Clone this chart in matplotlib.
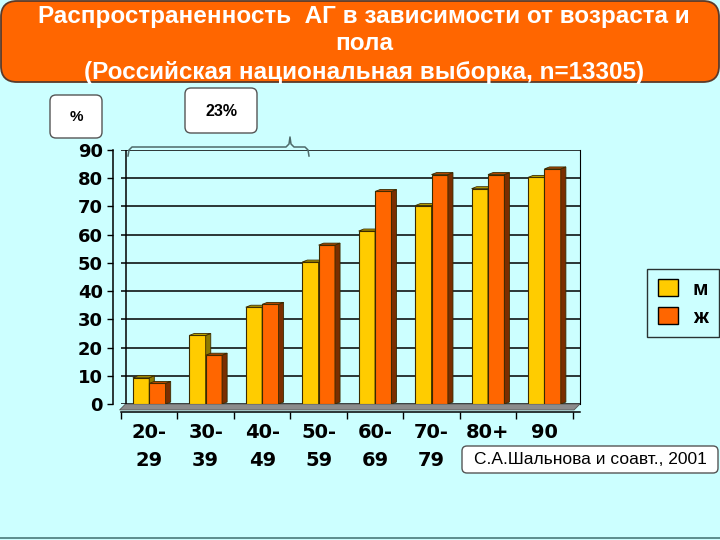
import matplotlib.pyplot as plt
from matplotlib.patches import FancyBboxPatch, Polygon, Rectangle, Patch
from matplotlib.lines import Line2D

plt.rcParams['font.family'] = ['Liberation Sans', 'DejaVu Sans']

groups = ["20-\n29", "30-\n39", "40-\n49", "50-\n59", "60-\n69", "70-\n79", "80+", "90"]
men = [10, 25, 35, 51, 62, 71, 77, 81]
women = [8, 18, 36, 57, 76, 82, 82, 84]
series_names = ["м", "ж"]

bg = "#ccffff"
fig = plt.figure(figsize=(7.2, 5.4), dpi=100, facecolor=bg)
ax = fig.add_axes([121 / 720, 1 - 404 / 540, 459 / 720, 254 / 540])
ax.set_facecolor(bg)
ax.set_xlim(-0.42, 7.63)
ax.set_ylim(0, 90)

# 3d-like bars
w = 0.29
dx, dy = 0.09, 0.7
faces = [("#ffcc00", "#8c7a00", "#b8a000"), ("#ff6600", "#7a2e00", "#b34700")]
for k, vals in enumerate([men, women]):
    front, side, top = faces[k]
    for i, v in enumerate(vals):
        x = i - w + k * w
        h = v - dy
        ax.add_patch(Rectangle((x, 0), w, h, facecolor=front, edgecolor="#3a2a00", lw=0.8, zorder=3))
        ax.add_patch(Polygon([(x + w, 0), (x + w + dx, dy), (x + w + dx, h + dy), (x + w, h)],
                             closed=True, facecolor=side, edgecolor="#3a2a00", lw=0.6, zorder=3))
        ax.add_patch(Polygon([(x, h), (x + dx, h + dy), (x + w + dx, h + dy), (x + w, h)],
                             closed=True, facecolor=top, edgecolor="#3a2a00", lw=0.6, zorder=3))

# floor
fdx, fdy = 0.105, 2.1
ax.add_patch(Polygon([(-0.42, 0), (7.63, 0), (7.63 - fdx, -fdy), (-0.42 - fdx, -fdy)],
                     closed=True, facecolor="#8c8c8c", edgecolor="#555555", lw=0.6,
                     clip_on=False, zorder=2))

ax.set_yticks(range(0, 91, 10))
ax.yaxis.grid(True, color="black", lw=1.1)
ax.set_axisbelow(True)
ax.axvline(-0.42, color="black", lw=1.1)

ax.spines["top"].set_visible(False)
ax.spines["right"].set_color("black")
ax.spines["left"].set_position(("outward", 6))
ax.spines["left"].set_linewidth(1.1)
ax.spines["bottom"].set_position(("outward", 6))
ax.spines["bottom"].set_linewidth(1.1)

tick_font = ["DejaVu Sans"]
ax.set_xticks(range(len(groups)))
ax.set_xticklabels(groups, fontsize=14, fontweight="bold", linespacing=1.6, family=tick_font)
ax.set_xticks([i + 0.5 for i in range(-1, 8)], minor=True)
ax.tick_params(axis="x", which="major", length=0, pad=8)
ax.tick_params(axis="x", which="minor", length=5, width=1, direction="out")
ax.tick_params(axis="y", length=4, width=1, pad=3, labelsize=13)
for t in ax.get_yticklabels():
    t.set_fontweight("bold")
    t.set_family(tick_font)

# legend
handles = [Patch(facecolor=faces[0][0], edgecolor="black"), Patch(facecolor=faces[1][0], edgecolor="black")]
leg = fig.legend(handles, series_names, loc="center", bbox_to_anchor=(683 / 720, 1 - 303 / 540),
                 frameon=True, fancybox=False, edgecolor="black", facecolor=bg,
                 prop={"weight": "bold", "size": 15}, handlelength=1.0, handleheight=0.9,
                 labelspacing=0.4, borderpad=0.5, handletextpad=0.7)
leg.get_frame().set_linewidth(1)

tr = fig.dpi_scale_trans


def box(x0, y0, x1, y1, fc, ec, r, lw=1.0):
    p = FancyBboxPatch((x0 / 100, (540 - y1) / 100), (x1 - x0) / 100, (y1 - y0) / 100,
                       boxstyle="round,pad=0,rounding_size=%f" % (r / 100),
                       facecolor=fc, edgecolor=ec, lw=lw, transform=tr)
    fig.add_artist(p)


def txt(x, y, s, **kw):
    fig.text(x / 100, (540 - y) / 100, s, transform=tr, ha="center", va="center", **kw)


# title
box(1, 1, 719, 82, "#ff6600", "#5a3a2a", 16, 1.3)
txt(364, 16, "Распространенность  АГ в зависимости от возраста и", color="white",
    fontsize=17.5, fontweight="bold")
txt(364, 44, "пола", color="white", fontsize=17.5, fontweight="bold")
txt(364, 72, "(Российская национальная выборка, n=13305)", color="white",
    fontsize=17.5, fontweight="bold")

# small boxes
box(50, 95, 102, 138, "white", "#555555", 6)
txt(76, 117, "%", fontsize=11, fontweight="bold")
box(185, 88, 257, 133, "white", "#555555", 6)
txt(221, 112, "23%", fontsize=11.5, fontweight="bold")

# bracket
bx = [128, 129, 132, 286, 289, 290, 291, 294, 305, 308, 309]
by = [156, 150, 147, 147, 144, 137, 144, 147, 147, 150, 156]
fig.add_artist(Line2D([v / 100 for v in bx], [(540 - v) / 100 for v in by],
                      transform=tr, color="#4d6a6a", lw=1.1))

# citation
box(462, 446, 718, 473, "white", "#555555", 5)
txt(590, 460, "С.А.Шальнова и соавт., 2001", fontsize=12.5)

fig.add_artist(Line2D([0, 7.2], [0.02, 0.02], transform=tr, color="#4a7a7a", lw=1.2))

fig.savefig("out.png", dpi=100, facecolor=bg)
